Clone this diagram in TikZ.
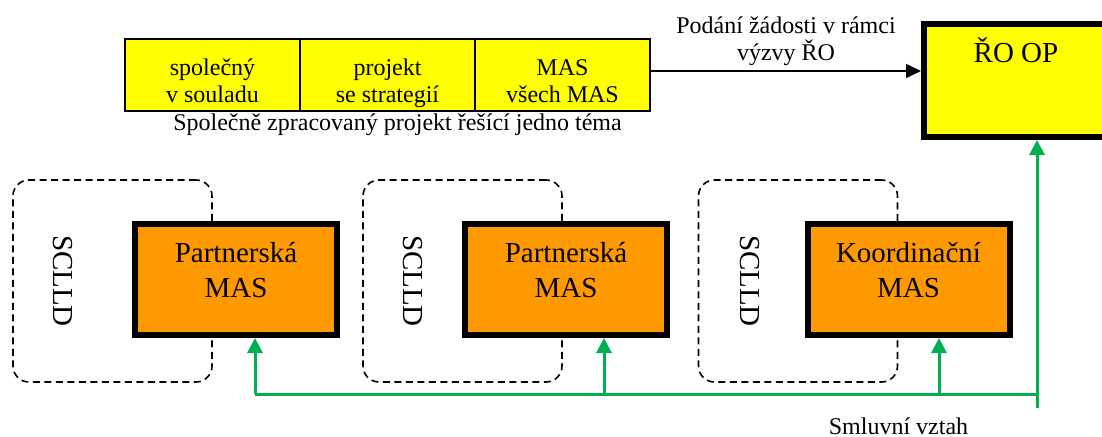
\documentclass[tikz,border=0pt]{standalone}
\usepackage{fontspec}
\setmainfont{Liberation Serif}
\usetikzlibrary{arrows.meta}
\definecolor{ylw}{RGB}{255,255,0}
\definecolor{orng}{RGB}{255,153,0}
\definecolor{grn}{RGB}{0,176,80}
\begin{document}
\begin{tikzpicture}[x=1pt,y=-1pt,
  cell/.style={draw, line width=2pt, fill=ylw, minimum width=175pt, minimum height=72pt, inner sep=0pt},
  small/.style={font=\fontsize{24}{27}\selectfont, inner sep=0pt, align=center},
  big/.style={font=\fontsize{29}{35}\selectfont, inner sep=0pt, align=center},
  masbox/.style={draw, line width=6pt, fill=orng, minimum width=202pt, minimum height=111pt, inner sep=0pt},
  scbox/.style={draw, dashed, dash pattern=on 7pt off 4.5pt, line width=1.6pt, rounded corners=16pt, minimum width=199pt, minimum height=202pt, inner sep=0pt},
  roop/.style={draw, line width=6pt, fill=ylw, minimum width=190pt, minimum height=113pt, inner sep=0pt},
  blk/.style={line width=1.5pt, -{Triangle[length=15pt,width=14pt]}},
  grl/.style={draw=grn, line width=3pt},
  gra/.style={grl, -{Triangle[length=15pt,width=15pt]}}
]
\useasboundingbox (0,0) rectangle (1102,436);

% top strip
\node[cell] (c1) at (212.5,75) {};
\node[cell] (c2) at (387.5,75) {};
\node[cell] (c3) at (562.5,75) {};
\begin{scope}
  \clip (126,40) rectangle (649,109);
  \node[small, anchor=base] (t1) at (212.5,102) {společný\\v souladu};
  \node[small, anchor=base] (t2) at (387.5,102) {projekt\\se strategií};
  \node[small, anchor=base] (t3) at (562.5,102) {MAS\\všech MAS};
\end{scope}
\node[small, anchor=base] (cap) at (397.5,130) {Společně zpracovaný projekt řešící jedno téma};

% RO OP
\node[roop] (ro) at (1019,80.5) {};
\node[big, anchor=base] (rot) at (1016,63) {ŘO OP};
\draw[blk] ([yshift=4pt]c3.east) coordinate (a0) -- (a0 -| ro.west);
\node[small, anchor=base] (lab) at (786,60) {Podání žádosti v rámci\\výzvy ŘO};

% SCLLD groups
\node[scbox] (s1) at (112.5,281) {};
\node[scbox] (s2) at (462.5,281) {};
\node[scbox] (s3) at (798,281) {};
\node[big, rotate=-90] (l1) at (63,281) {SCLLD};
\node[big, rotate=-90] (l2) at (413,281) {SCLLD};
\node[big, rotate=-90] (l3) at (750,281) {SCLLD};

\node[masbox] (b1) at (236,279.5) {};
\node[masbox] (b2) at (566,279.5) {};
\node[masbox] (b3) at (908.5,279.5) {};
\node[big, anchor=base] (bt1) at (236,297) {Partnerská\\MAS};
\node[big, anchor=base] (bt2) at (566,297) {Partnerská\\MAS};
\node[big, anchor=base] (bt3) at (908.5,297) {Koordinační\\MAS};

% green contract lines
\coordinate (g1) at (255,394);
\coordinate (g2) at (604,394);
\coordinate (g3) at (939,394);
\coordinate (gc) at (1037,394);
\coordinate (ge) at (1037,408);
\draw[grl] (g1) -- (gc);
\draw[gra] (ge) -- (ge |- ro.south);
\draw[gra] (g1) -- (g1 |- b1.south);
\draw[gra] (g2) -- (g2 |- b2.south);
\draw[gra] (g3) -- (g3 |- b3.south);
\node[small, anchor=base] (sm) at (898.5,434) {Smluvní vztah};
\end{tikzpicture}
\end{document}
